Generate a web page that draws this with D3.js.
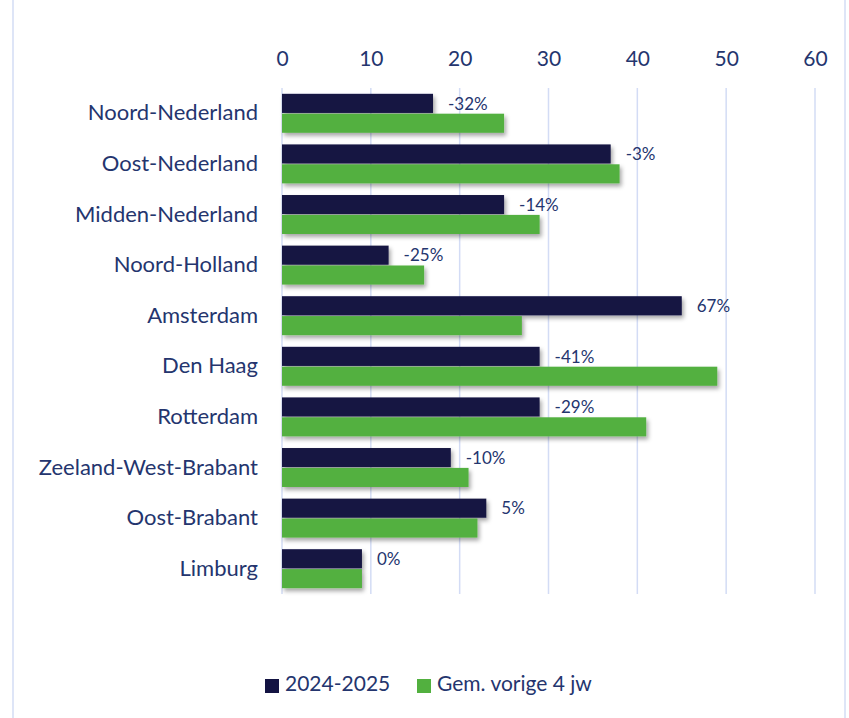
<!DOCTYPE html>
<html>
<head>
<meta charset="utf-8">
<script src="https://cdn.jsdelivr.net/npm/d3@7"></script>
<style>
  body { margin: 0; background: #fff; }
  text { font-family: Lato, "Open Sans", sans-serif; }
</style>
</head>
<body>
<svg id="chart" width="849" height="718"></svg>
<script>
// regio's en aantallen
const regions = ["Noord-Nederland", "Oost-Nederland", "Midden-Nederland", "Noord-Holland",
  "Amsterdam", "Den Haag", "Rotterdam", "Zeeland-West-Brabant", "Oost-Brabant", "Limburg"];
const current = [17, 37, 25, 12, 45, 29, 29, 19, 23, 9];
const previousAvg = [25, 38, 29, 16, 27, 49, 41, 21, 22, 9];
const changeLabels = ["-32%", "-3%", "-14%", "-25%", "67%", "-41%", "-29%", "-10%", "5%", "0%"];
const xTicks = [0, 10, 20, 30, 40, 50, 60];
const seriesNames = ["2024-2025", "Gem. vorige 4 jw"];

const colors = ["#131342", "#52b03f"];
const textColor = "#24356e";
const gridColor = "#d3dcf5";

const svg = d3.select("#chart");
const margin = { left: 282, right: 34, top: 88, bottom: 124 };
const width = 849, height = 718;

const x = d3.scaleLinear().domain([0, 60]).range([margin.left, width - margin.right]);
const y = d3.scaleBand().domain(regions).range([margin.top, height - margin.bottom])
  .paddingInner(0.23).paddingOuter(0.115);
const sub = d3.scaleBand().domain([0, 1]).range([0, y.bandwidth()]).paddingInner(0.04);

// shadow
const defs = svg.append("defs");
const f = defs.append("filter").attr("id", "shadow").attr("x", "-5%").attr("y", "-30%")
  .attr("width", "115%").attr("height", "180%");
f.append("feDropShadow").attr("dx", 2).attr("dy", 3).attr("stdDeviation", 2)
  .attr("flood-color", "#000").attr("flood-opacity", 0.35);

// frame lines
svg.append("line").attr("x1", 13).attr("x2", 13).attr("y1", 0).attr("y2", height)
  .attr("stroke", gridColor).attr("stroke-width", 1.5);
svg.append("line").attr("x1", 845).attr("x2", 845).attr("y1", 0).attr("y2", height)
  .attr("stroke", gridColor).attr("stroke-width", 1.5);

// grid
svg.append("g").selectAll("line").data(xTicks).join("line")
  .attr("x1", d => x(d)).attr("x2", d => x(d))
  .attr("y1", margin.top).attr("y2", height - margin.bottom)
  .attr("stroke", gridColor).attr("stroke-width", 1.5);

// top axis
const xAxis = svg.append("g").attr("transform", `translate(0,${margin.top})`)
  .call(d3.axisTop(x).tickValues(xTicks).tickSize(0).tickPadding(22));
xAxis.select(".domain").remove();
xAxis.selectAll("text").attr("fill", textColor).style("font-size", "21px");

// category labels
const yAxis = svg.append("g").attr("transform", `translate(${margin.left},0)`)
  .call(d3.axisLeft(y).tickSize(0).tickPadding(24));
yAxis.select(".domain").remove();
yAxis.selectAll("text").attr("fill", textColor).style("font-size", "22px");

// bars
const groups = svg.append("g").selectAll("g").data(regions).join("g")
  .attr("transform", d => `translate(0,${y(d)})`);

[current, previousAvg].forEach((vals, s) => {
  groups.append("rect")
    .attr("x", x(0))
    .attr("y", sub(s))
    .attr("height", sub.bandwidth())
    .attr("width", (d, i) => x(vals[i]) - x(0))
    .attr("fill", colors[s])
    .attr("filter", "url(#shadow)");
});

// change labels
groups.append("text")
  .attr("x", (d, i) => x(current[i]) + 15)
  .attr("y", sub(0) + sub.bandwidth() / 2 + 2)
  .attr("dominant-baseline", "middle")
  .attr("fill", textColor)
  .style("font-size", "17px")
  .text((d, i) => changeLabels[i]);

// legend
const legend = svg.append("g").attr("transform", "translate(265,686)");
const legendX = [0, 152];
seriesNames.forEach((name, i) => {
  const g = legend.append("g").attr("transform", `translate(${legendX[i]},0)`);
  g.append("rect").attr("x", 0).attr("y", -7).attr("width", 14).attr("height", 14).attr("fill", colors[i]);
  g.append("text").attr("x", 20).attr("y", 0).attr("dominant-baseline", "middle")
    .attr("fill", textColor).style("font-size", "21px").text(name);
});
</script>
</body>
</html>
